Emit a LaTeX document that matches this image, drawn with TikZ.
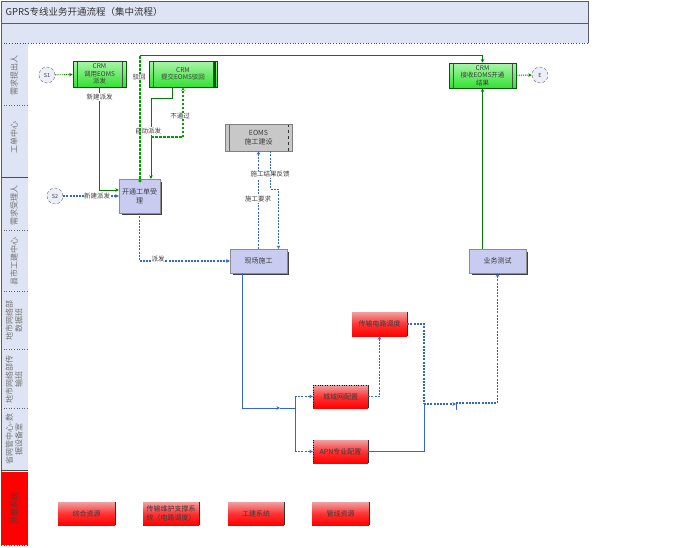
\documentclass[tikz,border=0pt]{standalone}
\usepackage{fontspec}
\setmainfont{Noto Sans CJK SC}
\usetikzlibrary{arrows.meta,calc}
\definecolor{band}{RGB}{222,228,243}
\definecolor{bandline}{RGB}{90,90,110}
\definecolor{gfill}{RGB}{50,225,50}
\definecolor{gtop}{RGB}{170,245,170}
\definecolor{gdraw}{RGB}{0,90,0}
\definecolor{gline}{RGB}{0,125,0}
\definecolor{gdash}{RGB}{0,160,0}
\definecolor{lav}{RGB}{200,204,240}
\definecolor{gry}{RGB}{200,200,200}
\definecolor{bline}{RGB}{51,102,204}
\definecolor{rtop}{RGB}{240,160,160}
\definecolor{txt}{RGB}{60,60,60}
\tikzset{
  tiny/.style={font=\fontsize{6.5}{7.5}\selectfont, text=txt},
  boxtext/.style={font=\fontsize{7}{8.5}\selectfont, text=txt},
  lanelabel/.style={font=\fontsize{8}{9.5}\selectfont, text=black!55, rotate=90, align=center},
  crmbox/.style={tiny, draw=gdraw, thick, top color=gtop, bottom color=gfill, align=center, inner sep=0pt,
    path picture={
      \draw[black!70] ([xshift=4pt]path picture bounding box.north west) -- ([xshift=4pt]path picture bounding box.south west);
      \draw[black!70] ([xshift=-4pt]path picture bounding box.north east) -- ([xshift=-4pt]path picture bounding box.south east);
    }},
  eomsbox/.style={boxtext, draw=black!50, fill=gry, align=center, inner sep=0pt,
    path picture={
      \draw[black!60] ([xshift=4pt]path picture bounding box.north west) -- ([xshift=4pt]path picture bounding box.south west);
      \draw[black!80, dashed] ([xshift=-4pt]path picture bounding box.north east) -- ([xshift=-4pt]path picture bounding box.south east);
    }},
  lavbox/.style={boxtext, draw=black!45, fill=lav, align=center, inner sep=1pt},
  redbox/.style={boxtext, draw=none, top color=rtop, bottom color=red, middle color=red!80!white, align=center, inner sep=0pt},
  evt/.style={circle, draw=black!60, densely dashed, fill=band!60!white, minimum size=16pt, inner sep=0pt, font=\fontsize{5.5}{6}\selectfont, text=txt},
  gconn/.style={draw=gline, line width=0.8pt},
  gdashed/.style={draw=gdash, line width=1.1pt, dash pattern=on 2.5pt off 1.5pt},
  gdotted/.style={draw=gline, line width=0.9pt, dash pattern=on 1.2pt off 1pt},
  bconn/.style={draw=bline, line width=0.9pt},
  bdashed/.style={draw=bline, line width=1.1pt, dash pattern=on 2pt off 1.2pt},
  tip/.style={-{Stealth[length=3.5pt,width=3.5pt]}},
  lbl/.style={tiny, fill=white, inner sep=0.5pt},
  shadowline/.style={black!75, line width=0.6pt}
}
\begin{document}
\begin{tikzpicture}[x=1pt,y=-1pt]
\useasboundingbox (0,0) rectangle (680,547);

% header bands and lane column
\fill[band] (1,1) rectangle (588,43);
\fill[band] (1,43) rectangle (28,470);
\draw[bandline, line width=0.8pt] (1,1) -- (588,1);
\draw[bandline, line width=0.8pt] (1,23) -- (588,23);
\draw[bandline, line width=0.6pt] (588,1) -- (588,43);
\draw[black!70, dotted, line width=0.7pt] (1,43) -- (588,43);
\draw[bandline, line width=0.8pt] (1,1) -- (1,545);
\node[anchor=west, font=\fontsize{9.5}{11}\selectfont, text=black!80] (title) at (2,12) {GPRS专线业务开通流程（集中流程）};

% lane separators
\foreach \yy in {105,230,291,349,408} \draw[black!60, dotted, line width=0.6pt] (1,\yy) -- (28,\yy);
\draw[black!70, line width=0.7pt] (1,177) -- (28,177);
\draw[black!70, line width=0.7pt] (1,470) -- (28,470);
\fill[red] (1,472) rectangle (28,545);
\draw[black!70, dotted, line width=0.6pt] (1,545) -- (28,545);

% lane labels
\node[lanelabel] (l1) at (14,75) {需求提出人};
\node[lanelabel] (l2) at (14,137) {工单中心};
\node[lanelabel] (l3) at (14,205) {需求受理人};
\node[lanelabel] (l4) at (14,261) {县市工建中心};
\node[lanelabel] (l5) at (14,320) {地市网络部\\数据班};
\node[lanelabel] (l6) at (14,379) {地市网络部传\\输班};
\node[lanelabel] (l7) at (14,439) {省网管中心-数\\据设备室};
\node[lanelabel, text=black!75] (l8) at (14,508) {外部系统};

% events
\node[evt] (s1) at (47,75) {S1};
\node[evt] (e) at (540,75) {E};
\node[evt] (s2) at (55,196) {S2};

% CRM tasks
\node[crmbox, minimum width=53pt, minimum height=26pt] (crm1) at (99.5,74) {CRM\\调用EOMS\\派发};
\node[crmbox, minimum width=68pt, minimum height=26pt] (crm2) at (183,74) {CRM\\提交EOMS驳回};
\node[crmbox, minimum width=67pt, minimum height=25pt] (crm3) at (482.5,75.5) {CRM\\接收EOMS开通\\结果};
\draw[gdraw, line width=2pt] ([xshift=-2pt]crm2.north east) -- ([xshift=-2pt]crm2.south east);

% EOMS and field tasks
\node[eomsbox, minimum width=67pt, minimum height=27pt] (eoms) at (258.5,137.5) {EOMS\\施工建设};
\node[lavbox, minimum width=41pt, minimum height=34pt] (kt) at (139.5,196) {开通工单受\\理};
\node[lavbox, minimum width=57pt, minimum height=24pt] (xc) at (258.5,261) {现场施工};
\node[lavbox, minimum width=57pt, minimum height=24pt] (yw) at (497.5,261) {业务测试};
\foreach \n in {kt,xc,yw}
  \draw[shadowline] ([xshift=1.5pt,yshift=-3pt]\n.north east) -- ([xshift=1.5pt,yshift=-1.5pt]\n.south east) -- ([xshift=3pt,yshift=-1.5pt]\n.south west);

% network tasks
\node[redbox, minimum width=55pt, minimum height=24pt] (cs) at (379.5,324) {传输电路调度};
\node[redbox, minimum width=55pt, minimum height=23pt] (cy) at (340.5,396.5) {城域网配置};
\node[redbox, minimum width=55pt, minimum height=23pt] (apn) at (340.5,451.5) {APN专业配置};
\draw[black, dotted] (cy.north west) -- (cy.north east);
\draw[black, dotted] (cy.north west) -- (cy.south west);
\draw[black, dotted] (apn.north west) -- (apn.south west);

% external systems
\node[redbox, minimum width=57pt, minimum height=23pt] (x1) at (86.5,513.5) {综合资源};
\node[redbox, minimum width=56pt, minimum height=23pt] (x2) at (171,513.5) {传输维护支撑系\\统（电路调度）};
\node[redbox, minimum width=56pt, minimum height=23pt] (x3) at (256,513.5) {工建系统};
\node[redbox, minimum width=57pt, minimum height=23pt] (x4) at (340.5,513.5) {管线资源};
\foreach \n in {x1,x2,x3,x4,cs,cy,apn}
  \draw[black!80, line width=0.8pt] (\n.north east) -- (\n.south east);

% green flows
\draw[gdotted, tip] (s1) -- (crm1);
\draw[gdotted, tip] (crm3) -- (e);
\draw[gconn, tip] (crm1.south) |- ([yshift=6pt]kt.west);
\node[lbl] (lb1) at (99.5,97) {新建派发};
\draw[gconn, tip] ([xshift=-11pt]crm2.south) -- ++(0,11) -| ([xshift=11.5pt]kt.north);
\coordinate (nb) at (151,137);
\draw[gdashed, tip] (nb) -| (crm2.south);
\node[lbl] (lb2) at (148,131) {自动派发};
\node[lbl] (lb3) at (180,116) {不通过};
\coordinate (rt) at ([xshift=0.5pt]kt.north);
\coordinate (rc) at (140,55);
\draw[gdashed] (rt) -- (rc);
\fill[gdash] ([yshift=-2pt]rt) circle (1.8pt);
\draw[gconn, tip] (rc) -| (crm3.north);
\node[lbl] (lb4) at (139,77) {驳回};
\draw[gconn, tip] (yw.north -| crm3.south) -- (crm3.south);

% blue flows
\draw[bdashed, tip] (s2) -- (kt);
\node[lbl] (lb5) at (97,196) {新建派发};
\draw[bdashed, tip] (kt.south) |- (xc.west);
\node[lbl] (lb6) at (158,259) {派发};
\draw[bdashed, tip] (xc.north) -- (eoms.south);
\node[lbl] (lb7) at (258,199) {施工要求};
\draw[bdashed, tip] ([xshift=12pt]eoms.south) -- ++(0,38) -| ([xshift=20pt]xc.north);
\node[lbl] (lb8) at (270,174) {施工结果反馈};

\coordinate (jn) at (280,408);
\coordinate (sp) at (295,408);
\draw[bconn, tip] ([xshift=-16.5pt]xc.south) |- (jn);
\draw[bconn] (jn) -- (sp);
\draw[bconn] (sp |- cy.west) -- (sp |- apn.west);
\draw[bdashed, tip] (sp |- cy.west) -- (cy.west);
\draw[bdashed, tip] (sp |- apn.west) -- (apn.west);
\draw[bdashed, tip] (cy.east) -| (cs.south);

\coordinate (mg) at (424,404);
\coordinate (gw) at (456,404);
\draw[bdashed] (cs.east) -| (mg);
\draw[bconn] (apn.east) -| (mg);
\draw[bdashed, tip] (mg) -- (gw);
\draw[bline, line width=0.8pt] ([yshift=2pt]gw) -- ([yshift=-6pt]gw);
\draw[bdashed, tip] ([yshift=1pt]gw) -| (yw.south);
\end{tikzpicture}
\end{document}
